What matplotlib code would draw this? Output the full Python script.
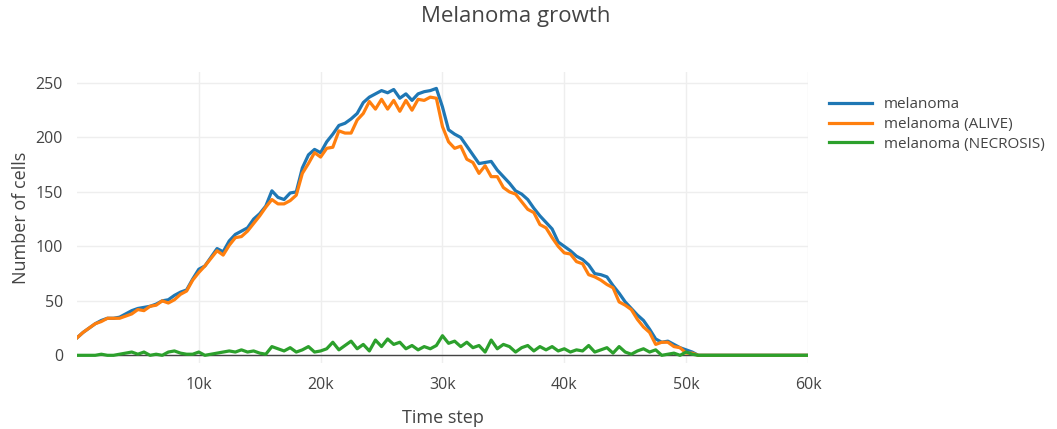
import numpy as np
import matplotlib
matplotlib.use("Agg")
import matplotlib.pyplot as plt
from matplotlib.ticker import FixedLocator

# ==========================================
# DATA (one value every 500 time steps)
# ==========================================
time_step = np.arange(0, 60001, 500)

melanoma = [
    16, 21, 25, 29, 32, 34, 34, 35, 38, 41,
    43, 44, 45, 47, 50, 51, 55, 58, 60, 70,
    79, 82, 90, 98, 95, 105, 111, 114, 117, 125,
    130, 137, 151, 145, 143, 149, 150, 172, 184, 189,
    186, 196, 203, 211, 213, 217, 222, 232, 237, 240,
    243, 241, 244, 236, 240, 234, 240, 242, 243, 245,
    228, 207, 203, 200, 192, 184, 176, 177, 178, 170,
    164, 158, 151, 148, 143, 135, 128, 122, 116, 104,
    100, 96, 91, 88, 83, 75, 74, 72, 64, 57,
    49, 43, 37, 32, 24, 15, 12, 13, 10, 7,
    5, 3, 0, 0, 0, 0, 0, 0, 0, 0,
    0, 0, 0, 0, 0, 0, 0, 0, 0, 0,
    0,
]

melanoma_alive = [
    16, 21, 25, 29, 31, 34, 34, 34, 36, 38,
    42, 41, 45, 46, 50, 48, 51, 56, 59, 69,
    76, 82, 89, 96, 92, 101, 108, 109, 114, 121,
    128, 136, 143, 139, 139, 142, 147, 167, 176, 186,
    182, 190, 191, 206, 204, 204, 216, 222, 233, 226,
    235, 226, 234, 224, 234, 225, 235, 234, 237, 236,
    210, 196, 190, 192, 180, 177, 167, 174, 164, 164,
    154, 150, 148, 141, 134, 131, 120, 117, 108, 100,
    94, 93, 86, 84, 74, 72, 69, 65, 62, 49,
    46, 42, 33, 26, 21, 10, 12, 12, 8, 7,
    2, 2, 0, 0, 0, 0, 0, 0, 0, 0,
    0, 0, 0, 0, 0, 0, 0, 0, 0, 0,
    0,
]

melanoma_necrosis = [
    0, 0, 0, 0, 1, 0, 0, 1, 2, 3,
    1, 3, 0, 1, 0, 3, 4, 2, 1, 1,
    3, 0, 1, 2, 3, 4, 3, 5, 3, 4,
    2, 1, 8, 6, 4, 7, 3, 5, 8, 3,
    4, 6, 12, 5, 9, 13, 6, 10, 4, 14,
    8, 15, 10, 12, 6, 9, 5, 8, 6, 9,
    18, 11, 13, 8, 12, 7, 9, 3, 14, 6,
    10, 8, 3, 7, 9, 4, 8, 5, 8, 4,
    6, 3, 5, 4, 9, 3, 5, 7, 2, 8,
    3, 1, 4, 6, 3, 5, 0, 1, 2, 0,
    3, 1, 0, 0, 0, 0, 0, 0, 0, 0,
    0, 0, 0, 0, 0, 0, 0, 0, 0, 0,
    0,
]

series_names = ["melanoma", "melanoma (ALIVE)", "melanoma (NECROSIS)"]
series_colors = ["#1f77b4", "#ff7f0e", "#2ca02c"]

x_ticks = [10000, 20000, 30000, 40000, 50000, 60000]
x_tick_labels = ["10k", "20k", "30k", "40k", "50k", "60k"]
y_ticks = [0, 50, 100, 150, 200, 250]

# ==========================================
# PLOTTING
# ==========================================
plt.rcParams["font.family"] = ["Open Sans", "DejaVu Sans"]
text_color = "#444444"

fig = plt.figure(figsize=(10.57, 4.29), dpi=100)
ax = fig.add_axes([0.0728, 0.154, 0.6916, 0.678])

for values, name, color in zip(
        [melanoma, melanoma_alive, melanoma_necrosis], series_names, series_colors):
    ax.plot(time_step, values, color=color, linewidth=2.3, label=name,
            solid_joinstyle="round", zorder=3)

ax.axhline(0, color=text_color, linewidth=1, zorder=2)

ax.set_xlim(0, 60000)
ax.set_ylim(-7, 260)
ax.xaxis.set_major_locator(FixedLocator(x_ticks))
ax.set_xticklabels(x_tick_labels)
ax.yaxis.set_major_locator(FixedLocator(y_ticks))

ax.grid(True, color="#eeeeee", linewidth=1, zorder=0)
ax.set_axisbelow(True)
for spine in ax.spines.values():
    spine.set_visible(False)
ax.tick_params(length=0, labelsize=11.5, labelcolor=text_color, pad=10)

ax.set_xlabel("Time step", fontsize=13, color=text_color, labelpad=12)
ax.set_ylabel("Number of cells", fontsize=13, color=text_color, labelpad=4)

fig.text(0.488, 0.962, "Melanoma growth", ha="center", va="center",
         fontsize=16, color=text_color)

leg = ax.legend(loc="upper left", bbox_to_anchor=(1.01, 0.96), frameon=False,
                fontsize=11, handlelength=2.8, labelspacing=0.3, handletextpad=0.8)
for t in leg.get_texts():
    t.set_color(text_color)

fig.savefig("out.png", dpi=100)
